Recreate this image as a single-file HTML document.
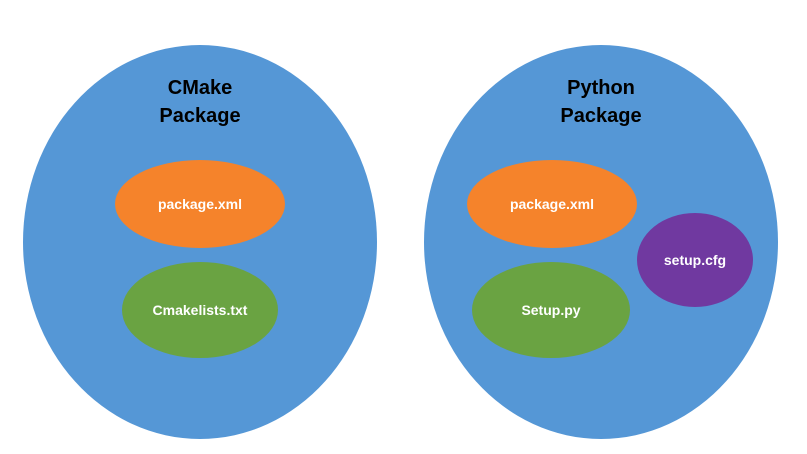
<!DOCTYPE html>
<html><head><style>
html,body{margin:0;padding:0;background:#fff;width:807px;height:454px;overflow:hidden}
svg text{font-family:"Liberation Sans",sans-serif;font-weight:bold}
</style></head><body>
<svg width="807" height="454" viewBox="0 0 807 454">
<ellipse cx="200" cy="242" rx="177" ry="197" fill="#5597D6"/>
<ellipse cx="601" cy="242" rx="177" ry="197" fill="#5597D6"/>
<text x="200" y="94" font-size="20" text-anchor="middle" fill="#000">CMake</text>
<text x="200" y="122" font-size="20" text-anchor="middle" fill="#000">Package</text>
<text x="601" y="94" font-size="20" text-anchor="middle" fill="#000">Python</text>
<text x="601" y="122" font-size="20" text-anchor="middle" fill="#000">Package</text>
<ellipse cx="200" cy="204" rx="85" ry="44" fill="#F5832B"/>
<ellipse cx="200" cy="310" rx="78" ry="48" fill="#6AA342"/>
<ellipse cx="552" cy="204" rx="85" ry="44" fill="#F5832B"/>
<ellipse cx="551" cy="310" rx="79" ry="48" fill="#6AA342"/>
<ellipse cx="695" cy="260" rx="58" ry="47" fill="#7039A0"/>
<g fill="#fff" font-size="14" text-anchor="middle">
<text x="200" y="209">package.xml</text>
<text x="200" y="315">Cmakelists.txt</text>
<text x="552" y="209">package.xml</text>
<text x="551" y="315">Setup.py</text>
<text x="695" y="265">setup.cfg</text>
</g>
</svg>
</body></html>
